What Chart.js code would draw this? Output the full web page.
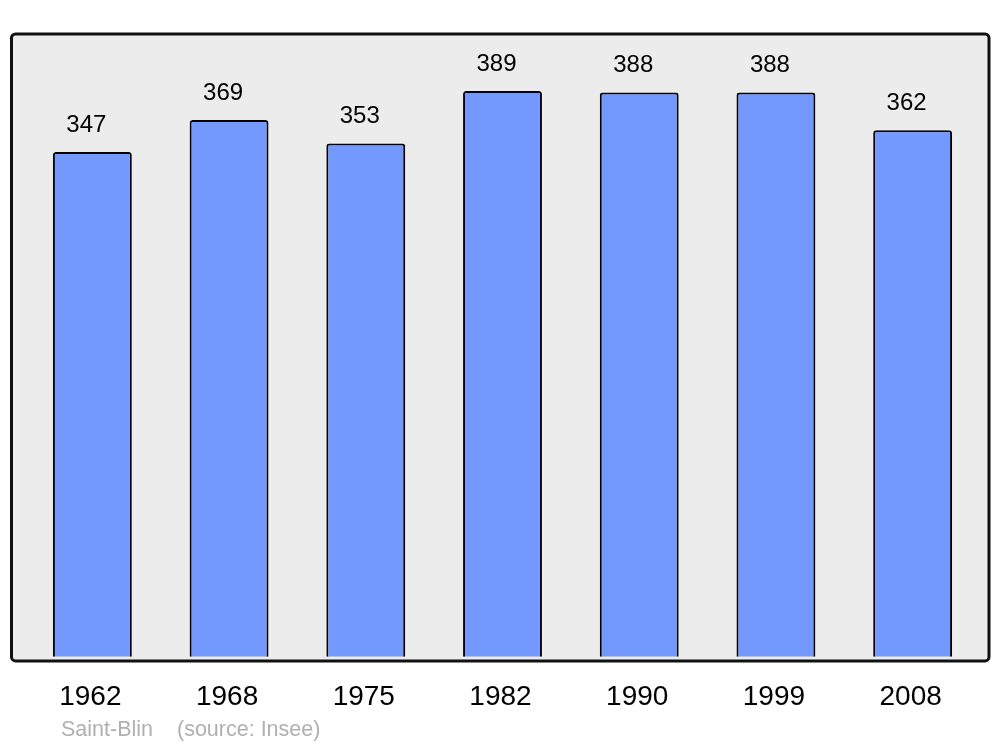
<!DOCTYPE html>
<html>
<head>
<meta charset="utf-8">
<script src="https://cdn.jsdelivr.net/npm/chart.js@4/dist/chart.umd.min.js"></script>
<style>
  html, body { margin: 0; padding: 0; background: #ffffff; }
  #wrap { width: 1000px; height: 747px; position: relative; }
</style>
</head>
<body>
<div id="wrap"><canvas id="c" width="1000" height="747"></canvas></div>
<script>
const years = ["1962", "1968", "1975", "1982", "1990", "1999", "2008"];
const population = [347, 369, 353, 389, 388, 388, 362];
const yMin = -1.4;
const yMax = 428.2;
const footerPlace = "Saint-Blin";
const footerSource = "(source: Insee)";

const framePlugin = {
  id: 'frame',
  beforeDatasetsDraw(chart) {
    const { ctx, chartArea: a } = chart;
    const x0 = a.left - 12.5, x1 = a.right + 8, y0 = a.top, y1 = a.bottom + 2;
    ctx.save();
    ctx.beginPath();
    ctx.roundRect(x0, y0, x1 - x0, y1 - y0, 4);
    ctx.fillStyle = '#ececec';
    ctx.fill();
    ctx.lineWidth = 3;
    ctx.strokeStyle = '#111111';
    ctx.stroke();
    ctx.restore();
  },
  afterDraw(chart) {
    const { ctx } = chart;
    const meta = chart.getDatasetMeta(0);
    ctx.save();
    ctx.fillStyle = '#000000';
    ctx.font = '24px "Liberation Sans", Arial, sans-serif';
    ctx.textAlign = 'center';
    ctx.textBaseline = 'middle';
    meta.data.forEach((bar, i) => {
      ctx.fillText(String(population[i]), bar.x - 6, bar.y - 27);
    });
    ctx.fillStyle = '#b0b0b0';
    ctx.font = '21.5px "Liberation Sans", Arial, sans-serif';
    ctx.textAlign = 'left';
    ctx.fillText(footerPlace, 61, 730);
    ctx.fillText(footerSource, 177, 730);
    ctx.restore();
  }
};

new Chart(document.getElementById('c'), {
  type: 'bar',
  data: {
    labels: years,
    datasets: [{
      data: population,
      backgroundColor: '#7399ff',
      borderColor: '#000000',
      borderWidth: 2,
      borderRadius: { topLeft: 3, topRight: 3, bottomLeft: 0, bottomRight: 0 },
      borderSkipped: 'bottom',
      categoryPercentage: 1,
      barPercentage: 0.577
    }]
  },
  options: {
    responsive: false,
    animation: false,
    devicePixelRatio: 1,
    layout: { padding: { left: 24, right: 19, top: 34, bottom: 10.5 } },
    plugins: { legend: { display: false }, tooltip: { enabled: false }, title: { display: false } },
    scales: {
      x: {
        grid: { display: false, drawTicks: false },
        border: { display: false },
        ticks: {
          color: '#000000',
          font: { family: '"Liberation Sans", Arial, sans-serif', size: 28 },
          padding: 22,
          labelOffset: -2,
          maxRotation: 0,
          autoSkip: false
        }
      },
      y: {
        display: false,
        min: yMin,
        max: yMax
      }
    }
  },
  plugins: [framePlugin]
});
</script>
</body>
</html>
